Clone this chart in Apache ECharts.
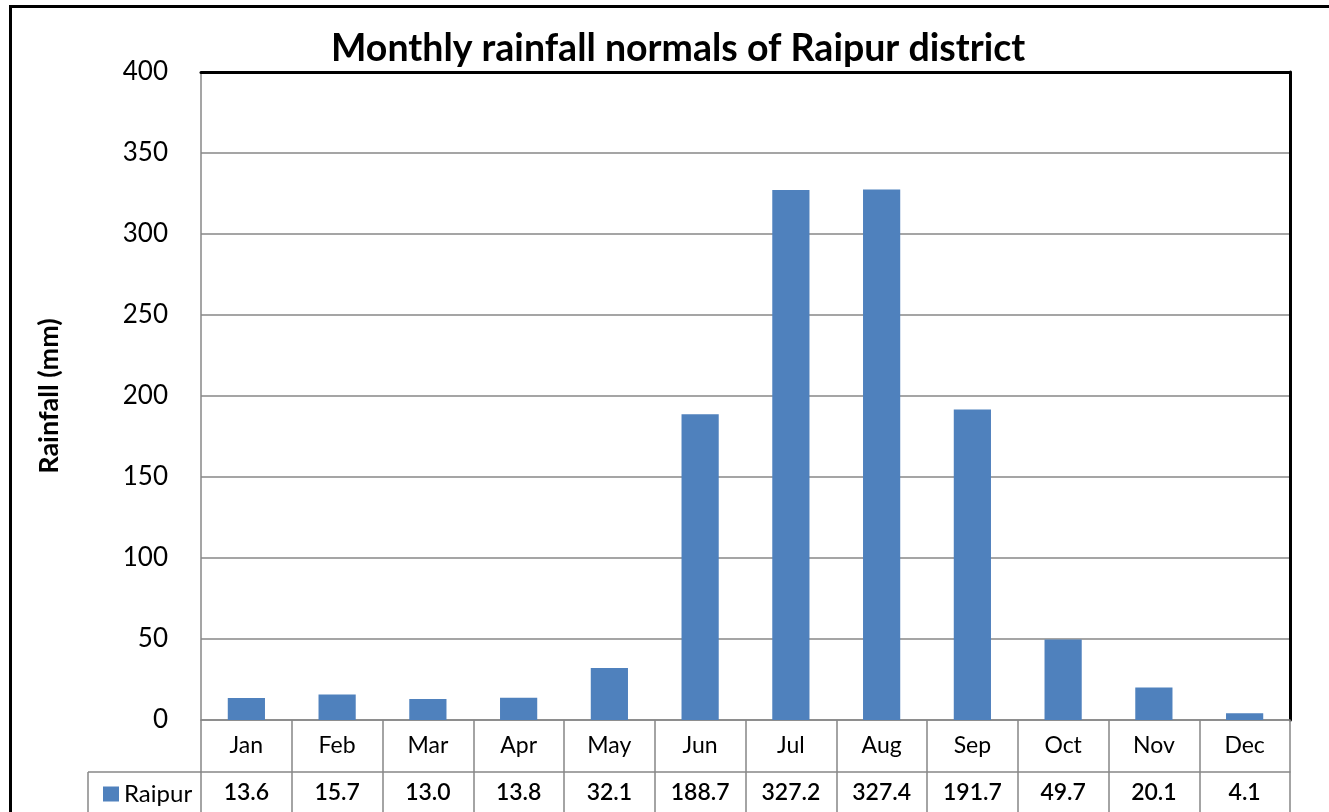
<!DOCTYPE html>
<html>
<head>
<meta charset="utf-8">
<script src="https://cdn.jsdelivr.net/npm/echarts@6/dist/echarts.min.js"></script>
<style>
html,body{margin:0;padding:0;background:#fff;}
#chart{width:1329px;height:812px;}
</style>
</head>
<body>
<div id="chart"></div>
<script>
const categories = ['Jan','Feb','Mar','Apr','May','Jun','Jul','Aug','Sep','Oct','Nov','Dec'];
const seriesName = 'Raipur';
const rainfall = [13.6, 15.7, 13.0, 13.8, 32.1, 188.7, 327.2, 327.4, 191.7, 49.7, 20.1, 4.1];
const titleText = 'Monthly rainfall normals of Raipur district';
const yAxisName = 'Rainfall (mm)';

const FONT = 'Lato, "Open Sans", sans-serif';
const GRAY = '#878787';
const chart = echarts.init(document.getElementById('chart'), null, {renderer:'canvas'});
chart.setOption({
  animation:false,
  backgroundColor:'#fff',
  title:{
    text:titleText, left:326, top:25,
    textStyle:{fontFamily:FONT, fontWeight:'bold', fontSize:37.5, color:'#000'}
  },
  legend:{
    data:[seriesName], left:98, top:777, itemWidth:16, itemHeight:15, itemGap:6,
    icon:'rect',
    textStyle:{fontFamily:FONT, fontSize:24, color:'#000'}
  },
  grid:{left:201, top:72, right:39, bottom:92, containLabel:false},
  xAxis:[{
    type:'category', data:categories, position:'bottom',
    axisLine:{show:true, onZero:false, lineStyle:{color:GRAY, width:1.5}},
    axisTick:{show:true, length:95, interval:0, lineStyle:{color:GRAY, width:1.5}},
    axisLabel:{fontFamily:FONT, fontSize:23, color:'#000', margin:14, interval:0},
    splitLine:{show:false}
  },{
    type:'category', data:rainfall.map(v=>v.toFixed(1)), position:'bottom', offset:52,
    axisLine:{show:true, onZero:false, lineStyle:{color:GRAY, width:1.5}},
    axisTick:{show:false},
    axisLabel:{fontFamily:FONT, fontSize:23, fontWeight:600, color:'#000', margin:9, interval:0},
    splitLine:{show:false}
  },{
    type:'category', data:categories, position:'top',
    axisLine:{show:true, onZero:false, lineStyle:{color:'#000', width:3}},
    axisTick:{show:false}, axisLabel:{show:false}
  }],
  yAxis:[{
    type:'value', min:0, max:400, interval:50,
    name:yAxisName, nameLocation:'middle', nameGap:138,
    nameTextStyle:{fontFamily:FONT, fontWeight:'bold', fontSize:27, color:'#000'},
    axisLine:{show:true, onZero:false, lineStyle:{color:GRAY, width:1.5}},
    axisTick:{show:false},
    axisLabel:{fontFamily:FONT, fontSize:26, color:'#000', margin:33},
    splitLine:{show:true, lineStyle:{color:GRAY, width:1.5}}
  },{
    type:'value', min:0, max:400, interval:50, position:'right',
    axisLine:{show:true, onZero:false, lineStyle:{color:'#000', width:3}},
    axisTick:{show:false}, axisLabel:{show:false}, splitLine:{show:false}
  }],
  series:[{
    name:seriesName, type:'bar', data:rainfall, xAxisIndex:0, yAxisIndex:0,
    barWidth:'41%', itemStyle:{color:'#4F81BD'}
  }],
  graphic:[
    {type:'rect', shape:{x:10.5, y:6.5, width:1400, height:900}, style:{fill:null, stroke:'#000', lineWidth:3}, silent:true},
    {type:'line', shape:{x1:88, y1:772, x2:201, y2:772}, style:{stroke:GRAY, lineWidth:1.5}},
    {type:'line', shape:{x1:88, y1:772, x2:88, y2:820}, style:{stroke:GRAY, lineWidth:1.5}}
  ]
});
</script>
</body>
</html>
